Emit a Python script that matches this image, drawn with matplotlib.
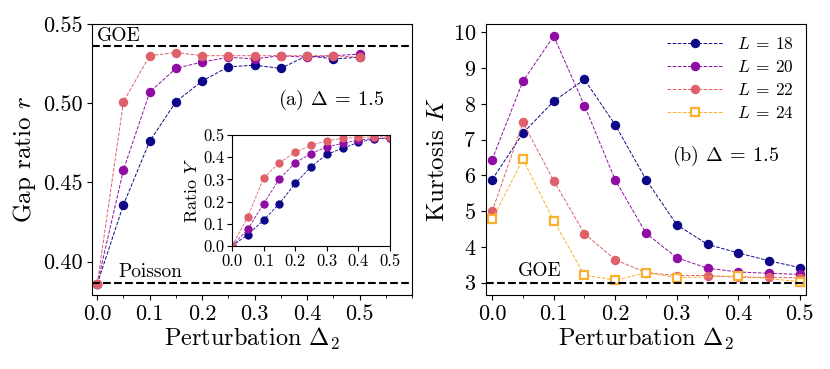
import numpy as np
import matplotlib
matplotlib.use("Agg")
import matplotlib.pyplot as plt
from matplotlib.ticker import MultipleLocator

plt.rcParams['font.family'] = 'serif'
plt.rcParams['font.serif'] = ['cmr10', 'DejaVu Serif']
plt.rcParams['mathtext.fontset'] = 'cm'
plt.rcParams['axes.formatter.use_mathtext'] = True
plt.rcParams['axes.unicode_minus'] = False

# perturbation grid
delta2 = [0.0, 0.05, 0.1, 0.15, 0.2, 0.25, 0.3, 0.35, 0.4, 0.45, 0.5]

# (a) gap ratio r
r_L18 = [0.386, 0.436, 0.476, 0.501, 0.514, 0.523, 0.524, 0.522, 0.530, 0.528, 0.529]
r_L20 = [0.386, 0.458, 0.507, 0.522, 0.526, 0.529, 0.528, 0.530, 0.529, 0.530, 0.531]
r_L22 = [0.386, 0.501, 0.530, 0.532, 0.530, 0.530, 0.530, 0.530, 0.530, 0.530, 0.529]

# inset: ratio Y
y_L18 = [0.0, 0.051, 0.116, 0.191, 0.282, 0.357, 0.413, 0.440, 0.467, 0.482, 0.488]
y_L20 = [0.0, 0.075, 0.191, 0.301, 0.375, 0.416, 0.447, 0.462, 0.477, 0.485, 0.485]
y_L22 = [0.0, 0.131, 0.307, 0.375, 0.422, 0.453, 0.474, 0.485, 0.489, 0.492, 0.492]

# (b) kurtosis K
k_L18 = [5.88, 7.18, 8.07, 8.68, 7.41, 5.88, 4.62, 4.07, 3.83, 3.61, 3.42]
k_L20 = [6.44, 8.63, 9.89, 7.95, 5.87, 4.38, 3.70, 3.40, 3.30, 3.26, 3.23]
k_L22 = [4.99, 7.48, 5.85, 4.37, 3.64, 3.28, 3.20, 3.20, 3.15, 3.15, 3.14]
delta2_L24 = [0.0, 0.05, 0.1, 0.15, 0.2, 0.25, 0.3, 0.4, 0.5]
k_L24 = [4.77, 6.45, 4.73, 3.21, 3.07, 3.28, 3.14, 3.19, 3.03]

r_goe = 0.5359
r_poisson = 0.3863
k_goe = 3.0

c18 = '#0d0887'
c20 = '#8f0da4'
c22 = '#e0606a'
c24 = '#fbb02f'

fig = plt.figure(figsize=(8.3, 3.69), dpi=100)
ax1 = fig.add_axes([92/830, 1 - 295/369, 320/830, 271/369])
ax2 = fig.add_axes([486/830, 1 - 295/369, 320/830, 271/369])
ins = fig.add_axes([232/830, 1 - 246/369, 158/830, 111/369])

lkw = dict(ls='--', lw=0.7, marker='o', ms=5.8)
ticks = ['0.0', '0.1', '0.2', '0.3', '0.4', '0.5']

# panel (a)
ax1.plot(delta2, r_L18, color=c18, **lkw)
ax1.plot(delta2, r_L20, color=c20, **lkw)
ax1.plot(delta2, r_L22, color=c22, **lkw)
ax1.axhline(r_goe, color='k', ls='--', lw=1.5)
ax1.axhline(r_poisson, color='k', ls='--', lw=1.5)
ax1.text(0.0, 0.5395, 'GOE', fontsize=14)
ax1.text(0.04, 0.3905, 'Poisson', fontsize=14)
ax1.text(0.446, 0.502, r'(a) $\Delta \:=\: 1.5$', fontsize=14.5, ha='center', va='center')
ax1.set_xlim(-0.01, 0.6)
ax1.set_ylim(0.379, 0.55)
ax1.set_xticks([0.0, 0.1, 0.2, 0.3, 0.4, 0.5])
ax1.set_xticklabels(ticks)
ax1.xaxis.set_minor_locator(MultipleLocator(0.05))
ax1.set_yticks([0.40, 0.45, 0.50, 0.55])
ax1.set_yticklabels(['0.40', '0.45', '0.50', '0.55'])
ax1.tick_params(labelsize=16)
ax1.set_xlabel(r'Perturbation $\Delta_2$', fontsize=17.5, labelpad=1)
ax1.set_ylabel(r'Gap ratio $r$', fontsize=18, labelpad=3)

# inset
ikw = dict(ls='--', lw=0.6, marker='o', ms=5)
ins.plot(delta2, y_L18, color=c18, **ikw)
ins.plot(delta2, y_L20, color=c20, **ikw)
ins.plot(delta2, y_L22, color=c22, **ikw)
ins.set_xlim(0, 0.5)
ins.set_ylim(0, 0.5)
ins.set_xticks([0.0, 0.1, 0.2, 0.3, 0.4, 0.5])
ins.set_yticks([0.0, 0.1, 0.2, 0.3, 0.4, 0.5])
ins.set_xticklabels(ticks)
ins.set_yticklabels(ticks)
ins.tick_params(labelsize=12, pad=2)
ins.set_ylabel(r'Ratio $Y$', fontsize=13, labelpad=2)

# panel (b)
ax2.plot(delta2, k_L18, color=c18, label=r'$L \:=\: 18$', **lkw)
ax2.plot(delta2, k_L20, color=c20, label=r'$L \:=\: 20$', **lkw)
ax2.plot(delta2, k_L22, color=c22, label=r'$L \:=\: 22$', **lkw)
ax2.plot(delta2_L24, k_L24, color=c24, ls='--', lw=0.7, marker='s', ms=5.5,
         mfc='white', mec=c24, mew=1.6, label=r'$L \:=\: 24$')
ax2.axhline(k_goe, color='k', ls='--', lw=1.5)
ax2.text(0.042, 3.2, 'GOE', fontsize=14)
ax2.text(0.38, 6.55, r'(b) $\Delta \:=\: 1.5$', fontsize=14.5, ha='center', va='center')
ax2.set_xlim(-0.01, 0.51)
ax2.set_ylim(2.655, 10.23)
ax2.set_xticks([0.0, 0.1, 0.2, 0.3, 0.4, 0.5])
ax2.set_xticklabels(ticks)
ax2.xaxis.set_minor_locator(MultipleLocator(0.05))
ax2.set_yticks([3, 4, 5, 6, 7, 8, 9, 10])
ax2.tick_params(labelsize=16)
ax2.set_xlabel(r'Perturbation $\Delta_2$', fontsize=17.5, labelpad=1)
ax2.set_ylabel(r'Kurtosis $K$', fontsize=18, labelpad=3)
ax2.legend(loc='upper right', frameon=False, fontsize=12.5, handlelength=3.2,
           labelspacing=0.4, borderaxespad=0.3)

fig.savefig('out.png', dpi=100)
